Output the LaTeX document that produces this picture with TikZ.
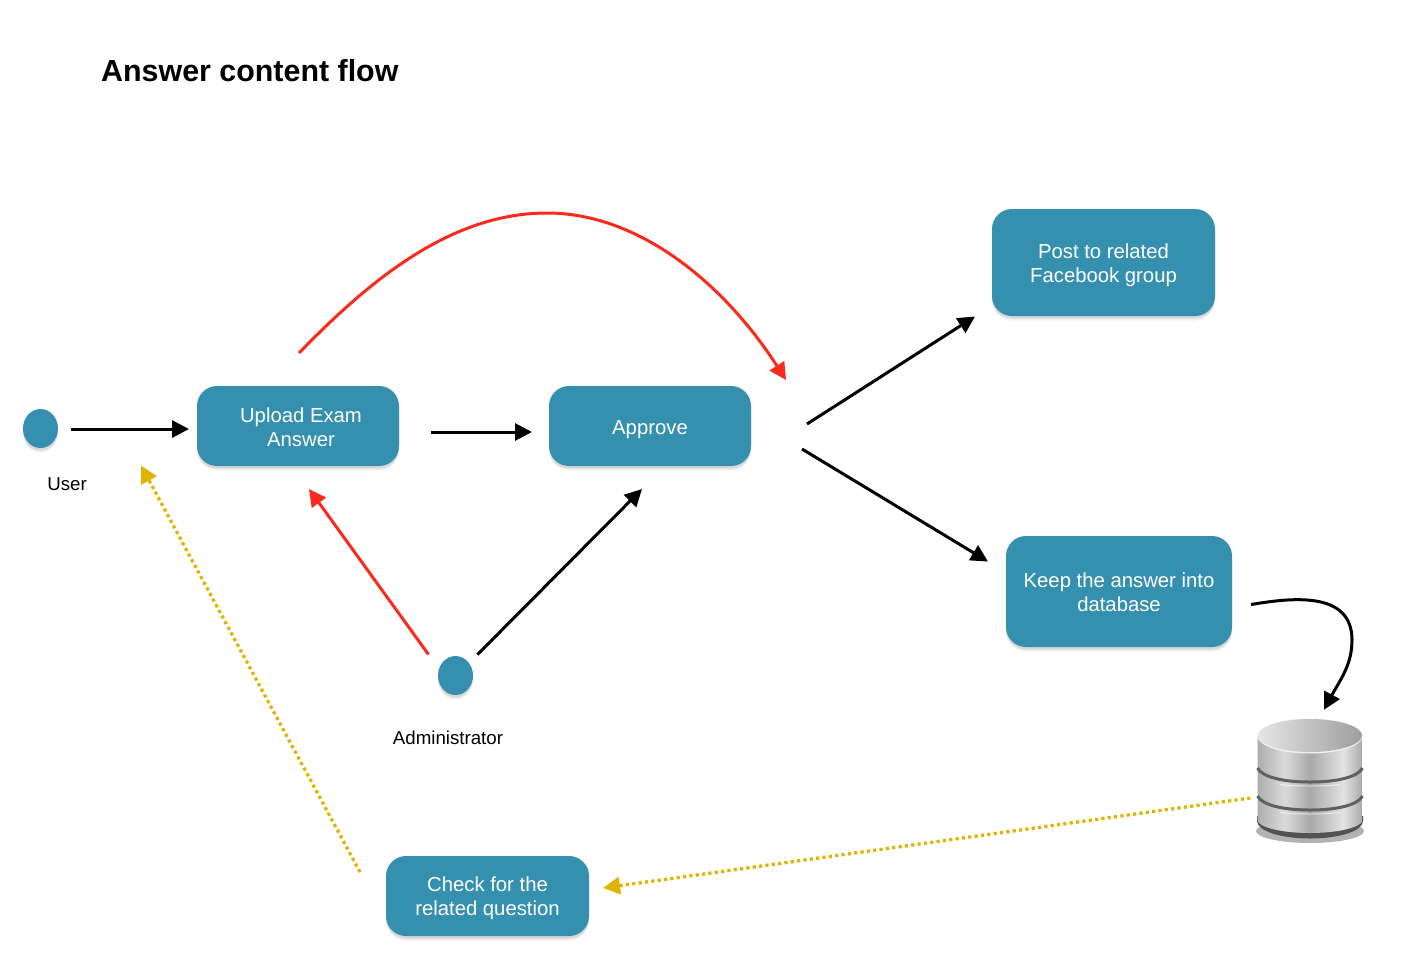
\documentclass[tikz,border=0pt]{standalone}
\usepackage{fontspec}
\setmainfont{Liberation Sans}
\usetikzlibrary{shapes.geometric,shadows,arrows.meta}
\definecolor{boxteal}{HTML}{3490AE}
\definecolor{flowred}{HTML}{FC2A1C}
\definecolor{flowyellow}{HTML}{E0B400}
\pgfdeclarehorizontalshading{dbshade}{100bp}{color(0bp)=(black!32); color(25bp)=(black!32); color(38bp)=(black!14); color(50bp)=(black!34); color(66bp)=(black!11); color(75bp)=(black!34); color(100bp)=(black!34)}
% taller first line, so the text sits lower in its box
\newcommand{\lowerby}[1]{\rule{0pt}{\dimexpr 15pt+#1pt+#1pt\relax}}

\begin{document}
\begin{tikzpicture}[x=1pt,y=-1pt,
	softshadow/.style={drop shadow={shadow xshift=0pt,shadow yshift=-4.5pt,opacity=.12},
		drop shadow={shadow xshift=0pt,shadow yshift=-2.5pt,opacity=.22}},
	box/.style={draw=none,fill=boxteal,rounded corners=20pt,outer sep=0pt,inner sep=0pt,text=white,align=center,
		font=\fontsize{20.3}{24}\selectfont,softshadow},
	actor/.style={ellipse,fill=boxteal,outer sep=0pt,inner sep=0pt,minimum width=35pt,minimum height=39pt,softshadow},
	caption/.style={inner sep=0pt,font=\fontsize{18.7}{22}\selectfont},
	flow/.style={line width=3pt,-{Triangle[length=17pt,width=17pt]}},
	back/.style={flow,color=flowred},
	check/.style={flow,color=flowyellow,line width=3.3pt,dash pattern=on 3.2pt off 3.2pt}
	]
	\useasboundingbox (0,0) rectangle (1402,978);
	\node[inner sep=0pt,anchor=west,font=\fontsize{30.4}{36}\bfseries\selectfont] (title) at (101,71) {Answer content flow};

	\node[actor] (user) at (40.5,428.5) {};
	\node[caption] (userlabel) at (67,484) {User};
	\node[actor] (admin) at (455.5,675.5) {};
	\node[caption] (adminlabel) at (448,738) {Administrator};

	\node[box,minimum width=202pt,minimum height=80pt] (upload) at (298,426) {\lowerby{1}\hspace*{6pt}Upload Exam\\\hspace*{6pt}Answer};
	\node[box,minimum width=202pt,minimum height=80pt] (approve) at (650,426) {\lowerby{3}Approve};
	\node[box,minimum width=223pt,minimum height=107pt] (post) at (1103.5,262.5) {\lowerby{3}Post to related\\Facebook group};
	\node[box,minimum width=226pt,minimum height=111pt] (keep) at (1119,591.5) {\lowerby{1}Keep the answer into\\database};
	\node[box,minimum width=203pt,minimum height=80pt] (related) at (487.5,896) {\lowerby{2.5}Check for the\\related question};

	% database
	\node[inner sep=0pt,minimum width=105pt,minimum height=122pt] (dbase) at (1310,780) {};
	\begin{scope}[shift={(dbase.center)}]
		\fill[black!30] (0,51) ellipse [x radius=54,y radius=12];
		\fill[black!68] (-53,36) -- (-53,41) .. controls (-53,51) and (-29,58.5) .. (0,58.5) .. controls (29,58.5) and (53,51) .. (53,41) -- (53,36) -- cycle;
		\shade[shading=dbshade] (-52.5,-44) -- (-52.5,40) .. controls (-52.5,47) and (-29,53) .. (0,53) .. controls (29,53) and (52.5,47) .. (52.5,40) -- (52.5,-44) -- cycle;
		\foreach \y in {-12,16} {
			\draw[white,opacity=.6,line width=1pt] (-30,\y+16.5) .. controls (-15,\y+18.5) and (15,\y+18.5) .. (30,\y+16.5);
			\draw[black!62,line width=3pt] (-52.5,\y) .. controls (-48,\y+9) and (-27,\y+14) .. (0,\y+14) .. controls (27,\y+14) and (48,\y+9) .. (52.5,\y);
		}
		\fill[black!5] (0,-44) ellipse [x radius=52.5,y radius=17.5];
		\shade[left color=black!10,right color=black!38] (0,-44.5) ellipse [x radius=52,y radius=16.5];
	\end{scope}

	\draw[flow] ([shift={(30.5,.5)}]user.center) -- ([shift={(-8,3)}]upload.west);
	\draw[flow] ([shift={(32,6)}]upload.east) -- ([shift={(-17,6)}]approve.west);
	\draw[flow] ([shift={(56,-2)}]approve.east) -- ([shift={(-17,54)}]post.west);
	\draw[flow] ([shift={(51,23)}]approve.east) -- ([shift={(-18,-30)}]keep.west);
	\draw[flow] ([shift={(22,-21)}]admin.center) -- ([shift={(-8,23)}]approve.south);
	\draw[back] ([shift={(-27,-21)}]admin.center) -- ([shift={(11,23)}]upload.south);
	\draw[back] ([shift={(1,-33)}]upload.north) .. controls +(70,-72) and (450,213) .. (547,213)
		.. controls (640,213) and (725,285) .. ([shift={(35,-46)}]approve.east);
	\draw[flow] ([shift={(19,13)}]keep.east) .. controls (1290,598) and (1352,590) .. (1352,640)
		.. controls (1352,665) and (1340,680) .. ([shift={(14,-9)}]dbase.north);
	\draw[check] ([shift={(-7,18)}]dbase.west) -- ([shift={(14,-8)}]related.east);
	\draw[check] ([shift={(-26,-24)}]related.west) -- ([shift={(83,37)}]user.east);
\end{tikzpicture}
\end{document}
